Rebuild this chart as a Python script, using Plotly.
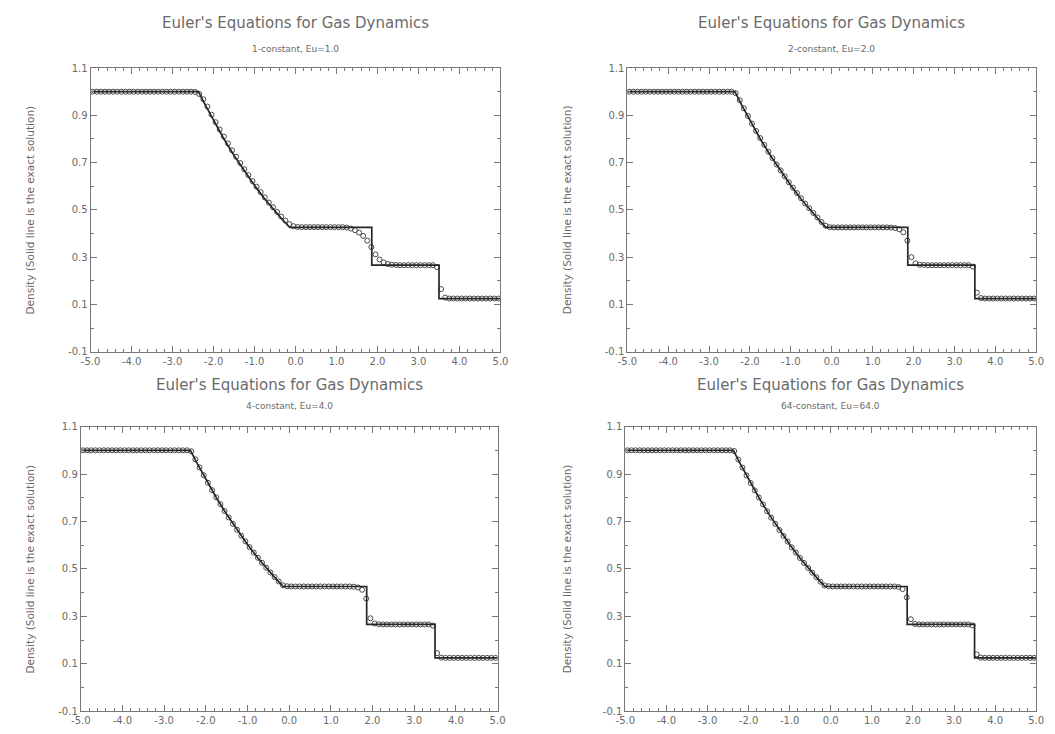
import plotly.graph_objects as go

# ---------------- data ----------------
panel_titles = ["1-constant, Eu=1.0", "2-constant, Eu=2.0", "4-constant, Eu=4.0", "64-constant, Eu=64.0"]
main_title = "Euler's Equations for Gas Dynamics"
y_title = "Density (Solid line is the exact solution)"

x_ticks = [-5.0, -4.0, -3.0, -2.0, -1.0, 0.0, 1.0, 2.0, 3.0, 4.0, 5.0]
y_ticks = [-0.1, 0.1, 0.3, 0.5, 0.7, 0.9, 1.1]

# exact solution (solid line)
x_exact = [-5.0, -2.37, -2.2, -2.0, -1.75, -1.5, -1.25, -1.0, -0.75, -0.5, -0.3, -0.14,
           1.86, 1.86, 3.50, 3.50, 5.0]
rho_exact = [1.0, 1.0, 0.943, 0.877, 0.801, 0.730, 0.664, 0.603, 0.546, 0.494, 0.455, 0.426,
             0.426, 0.266, 0.266, 0.125, 0.125]

# numerical cell centres
x_cells = [-4.95, -4.85, -4.75, -4.65, -4.55, -4.45, -4.35, -4.25, -4.15, -4.05,
           -3.95, -3.85, -3.75, -3.65, -3.55, -3.45, -3.35, -3.25, -3.15, -3.05,
           -2.95, -2.85, -2.75, -2.65, -2.55, -2.45, -2.35, -2.25, -2.15, -2.05,
           -1.95, -1.85, -1.75, -1.65, -1.55, -1.45, -1.35, -1.25, -1.15, -1.05,
           -0.95, -0.85, -0.75, -0.65, -0.55, -0.45, -0.35, -0.25, -0.15, -0.05,
           0.05, 0.15, 0.25, 0.35, 0.45, 0.55, 0.65, 0.75, 0.85, 0.95,
           1.05, 1.15, 1.25, 1.35, 1.45, 1.55, 1.65, 1.75, 1.85, 1.95,
           2.05, 2.15, 2.25, 2.35, 2.45, 2.55, 2.65, 2.75, 2.85, 2.95,
           3.05, 3.15, 3.25, 3.35, 3.45, 3.55, 3.65, 3.75, 3.85, 3.95,
           4.05, 4.15, 4.25, 4.35, 4.45, 4.55, 4.65, 4.75, 4.85, 4.95]

rho_eu1 = [1.0, 1.0, 1.0, 1.0, 1.0, 1.0, 1.0, 1.0, 1.0, 1.0,
           1.0, 1.0, 1.0, 1.0, 1.0, 1.0, 1.0, 1.0, 1.0, 1.0,
           1.0, 1.0, 1.0, 1.0, 1.0, 0.999, 0.990, 0.968, 0.937, 0.903,
           0.871, 0.840, 0.810, 0.781, 0.752, 0.725, 0.698, 0.672, 0.647, 0.622,
           0.598, 0.575, 0.553, 0.531, 0.511, 0.491, 0.472, 0.455, 0.440, 0.431,
           0.428, 0.427, 0.427, 0.427, 0.427, 0.427, 0.427, 0.427, 0.427, 0.427,
           0.427, 0.427, 0.425, 0.421, 0.414, 0.404, 0.390, 0.370, 0.343, 0.312,
           0.290, 0.278, 0.271, 0.268, 0.267, 0.266, 0.266, 0.266, 0.266, 0.266,
           0.266, 0.266, 0.266, 0.266, 0.258, 0.165, 0.129, 0.125, 0.125, 0.125,
           0.125, 0.125, 0.125, 0.125, 0.125, 0.125, 0.125, 0.125, 0.125, 0.125]

rho_eu2 = [1.0, 1.0, 1.0, 1.0, 1.0, 1.0, 1.0, 1.0, 1.0, 1.0,
           1.0, 1.0, 1.0, 1.0, 1.0, 1.0, 1.0, 1.0, 1.0, 1.0,
           1.0, 1.0, 1.0, 1.0, 1.0, 1.000, 0.994, 0.964, 0.930, 0.897,
           0.865, 0.834, 0.804, 0.775, 0.746, 0.719, 0.692, 0.667, 0.642, 0.617,
           0.594, 0.571, 0.549, 0.527, 0.507, 0.487, 0.468, 0.449, 0.433, 0.427,
           0.426, 0.426, 0.426, 0.426, 0.426, 0.426, 0.426, 0.426, 0.426, 0.426,
           0.426, 0.426, 0.426, 0.426, 0.425, 0.423, 0.418, 0.405, 0.370, 0.300,
           0.274, 0.268, 0.267, 0.266, 0.266, 0.266, 0.266, 0.266, 0.266, 0.266,
           0.266, 0.266, 0.266, 0.266, 0.260, 0.150, 0.127, 0.125, 0.125, 0.125,
           0.125, 0.125, 0.125, 0.125, 0.125, 0.125, 0.125, 0.125, 0.125, 0.125]

rho_eu4 = [1.0, 1.0, 1.0, 1.0, 1.0, 1.0, 1.0, 1.0, 1.0, 1.0,
           1.0, 1.0, 1.0, 1.0, 1.0, 1.0, 1.0, 1.0, 1.0, 1.0,
           1.0, 1.0, 1.0, 1.0, 1.0, 1.000, 0.996, 0.962, 0.928, 0.895,
           0.863, 0.832, 0.802, 0.773, 0.744, 0.717, 0.690, 0.665, 0.640, 0.616,
           0.592, 0.569, 0.547, 0.526, 0.505, 0.485, 0.466, 0.447, 0.431, 0.427,
           0.426, 0.426, 0.426, 0.426, 0.426, 0.426, 0.426, 0.426, 0.426, 0.426,
           0.426, 0.426, 0.426, 0.426, 0.426, 0.425, 0.422, 0.412, 0.375, 0.292,
           0.270, 0.267, 0.266, 0.266, 0.266, 0.266, 0.266, 0.266, 0.266, 0.266,
           0.266, 0.266, 0.266, 0.266, 0.261, 0.145, 0.126, 0.125, 0.125, 0.125,
           0.125, 0.125, 0.125, 0.125, 0.125, 0.125, 0.125, 0.125, 0.125, 0.125]

rho_eu64 = [1.0, 1.0, 1.0, 1.0, 1.0, 1.0, 1.0, 1.0, 1.0, 1.0,
            1.0, 1.0, 1.0, 1.0, 1.0, 1.0, 1.0, 1.0, 1.0, 1.0,
            1.0, 1.0, 1.0, 1.0, 1.0, 1.000, 0.997, 0.961, 0.927, 0.894,
            0.862, 0.831, 0.801, 0.772, 0.743, 0.716, 0.690, 0.664, 0.639, 0.615,
            0.591, 0.569, 0.546, 0.525, 0.504, 0.484, 0.465, 0.446, 0.430, 0.427,
            0.426, 0.426, 0.426, 0.426, 0.426, 0.426, 0.426, 0.426, 0.426, 0.426,
            0.426, 0.426, 0.426, 0.426, 0.426, 0.426, 0.424, 0.415, 0.380, 0.288,
            0.268, 0.266, 0.266, 0.266, 0.266, 0.266, 0.266, 0.266, 0.266, 0.266,
            0.266, 0.266, 0.266, 0.266, 0.262, 0.140, 0.126, 0.125, 0.125, 0.125,
            0.125, 0.125, 0.125, 0.125, 0.125, 0.125, 0.125, 0.125, 0.125, 0.125]

numerical = [rho_eu1, rho_eu2, rho_eu4, rho_eu64]

# ---------------- layout ----------------
W, H = 1055, 734
# plot areas in pixels: (left, right, top, bottom)
boxes = [(82, 499, 64, 352), (628, 1044, 64, 352),
         (72, 496, 428, 717), (626, 1044, 428, 717)]
title_y = [18, 18, 386, 386]
sub_y = [45, 45, 407, 407]
ytitle_x = [20, 567, 20, 567]

TXT = "#6a6a6a"
AX = "#777777"
FONT = "DejaVu Sans"

fig = go.Figure()
layout = dict(width=W, height=H, margin=dict(l=0, r=0, t=0, b=0),
              paper_bgcolor="white", plot_bgcolor="white", showlegend=False,
              font=dict(family=FONT, color=TXT, size=10))
annotations = []

for k in range(4):
    l, r, t, b = boxes[k]
    sx = "" if k == 0 else str(k + 1)
    xa, ya = "x" + sx, "y" + sx
    fig.add_trace(go.Scatter(x=x_cells, y=numerical[k], mode="markers", xaxis=xa, yaxis=ya,
                             marker=dict(symbol="circle-open", size=5, color="#4a4a4a",
                                         line=dict(width=1, color="#4a4a4a"))))
    fig.add_trace(go.Scatter(x=x_exact, y=rho_exact, mode="lines", xaxis=xa, yaxis=ya,
                             line=dict(color="#262626", width=1.7)))
    layout["xaxis" + sx] = dict(domain=[l / W, r / W], anchor=ya, range=[-5, 5],
                                tickvals=x_ticks, ticktext=[f"{v:.1f}" for v in x_ticks],
                                ticks="inside", ticklen=6, tickcolor=AX, tickwidth=1,
                                minor=dict(dtick=0.2, tick0=-5, ticks="inside", ticklen=3,
                                           tickcolor=AX, tickwidth=1),
                                showline=True, linecolor=AX, linewidth=1, mirror="ticks",
                                showgrid=False, zeroline=False,
                                tickfont=dict(size=10, color=TXT, family=FONT))
    layout["yaxis" + sx] = dict(domain=[1 - b / H, 1 - t / H], anchor=xa, range=[-0.1, 1.1],
                                tickvals=y_ticks, ticktext=[f"{v:.1f}" for v in y_ticks],
                                ticks="inside", ticklen=6, tickcolor=AX, tickwidth=1,
                                minor=dict(dtick=0.1, tick0=-0.1, ticks="inside", ticklen=3,
                                           tickcolor=AX, tickwidth=1),
                                showline=True, linecolor=AX, linewidth=1, mirror="ticks",
                                showgrid=False, zeroline=False,
                                tickfont=dict(size=10, color=TXT, family=FONT))
    cx = (l + r) / 2 / W
    annotations.append(dict(text=main_title, x=cx, y=1 - title_y[k] / H, xref="paper", yref="paper",
                            showarrow=False, xanchor="center", yanchor="middle",
                            font=dict(size=15, color=TXT, family=FONT)))
    annotations.append(dict(text=panel_titles[k], x=cx, y=1 - sub_y[k] / H, xref="paper", yref="paper",
                            showarrow=False, xanchor="center", yanchor="middle",
                            font=dict(size=9, color=TXT, family=FONT)))
    annotations.append(dict(text=y_title, x=ytitle_x[k] / W, y=1 - (t + b) / 2 / H,
                            xref="paper", yref="paper", showarrow=False, textangle=-90,
                            xanchor="center", yanchor="middle",
                            font=dict(size=10.5, color=TXT, family=FONT)))

layout["annotations"] = annotations
fig.update_layout(**layout)
fig.write_html("out.html")
